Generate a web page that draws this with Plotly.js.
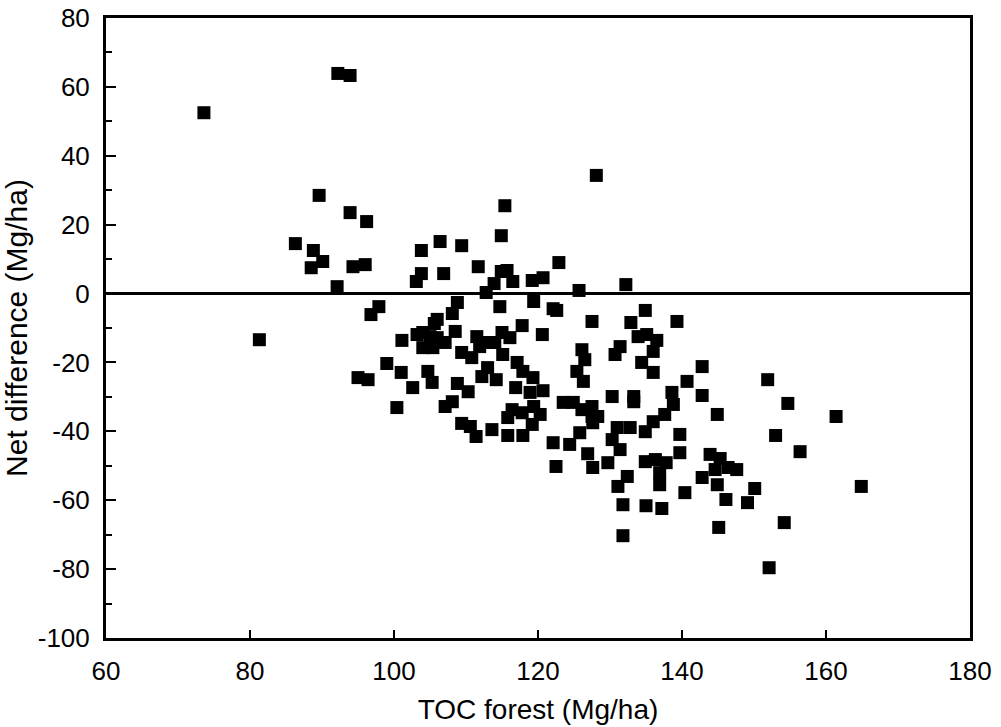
<!DOCTYPE html>
<html>
<head>
<meta charset="utf-8">
<script src="https://cdn.plot.ly/plotly-3.0.1.min.js"></script>
<style>html,body{margin:0;padding:0;background:#fff;}#chart{width:1001px;height:727px;}</style>
</head>
<body>
<div id="chart"></div>
<script>
// TOC forest (Mg/ha)
const tocForest = [
  73.6, 92.2, 93.9, 81.3, 89.6, 93.9, 96.2, 86.3, 88.8, 90.1, 88.5, 94.3, 96.0, 92.1, 97.9, 96.8,
  95.0, 96.4, 99.0,
  128.1, 115.4, 114.9, 106.4, 109.4, 103.8, 122.9, 111.7, 103.8, 106.9, 103.1, 114.9, 115.7, 116.5,
  113.9, 119.2, 120.7, 125.7, 112.8, 108.8, 108.1, 106.0, 105.6, 114.7, 119.4, 122.1, 122.6, 117.8,
  127.5, 120.6, 101.1, 103.2, 104.0, 105.0, 106.0, 104.0, 105.4, 107.1, 108.5, 111.5, 112.9, 114.0,
  115.0, 116.1, 115.1, 109.4, 110.8, 111.9, 126.1, 126.5, 101.0, 104.7, 105.3, 108.8, 110.3, 102.6,
  113.0, 112.2, 114.2, 117.1, 117.9, 119.3, 116.9, 118.9, 120.7, 125.4, 126.3, 100.4, 107.1, 108.1,
  109.4, 110.6, 111.4, 113.6, 116.4, 117.8, 115.8, 119.4, 120.3, 119.2, 117.9, 115.8, 123.5, 124.9,
  126.1, 127.5, 127.5, 127.6, 125.8, 122.1, 124.4, 126.9, 122.5, 127.6,
  132.2, 134.9, 139.3, 132.9, 133.9, 135.1, 136.5, 136.0, 131.4, 130.7, 134.4, 136.0, 142.8, 140.7,
  151.9, 142.8, 138.6, 138.8, 130.3, 133.3, 133.3, 144.9, 154.7, 137.6, 136.0, 134.9, 128.3, 131.0,
  132.8, 130.3, 131.4, 139.7, 139.7, 134.9, 136.3, 137.8, 136.9, 136.9, 143.9, 145.3, 144.6, 146.4,
  147.6, 142.8, 144.9, 150.1, 140.4, 129.7, 132.4, 131.1, 146.1, 149.1, 131.8, 135.0, 137.2, 154.2,
  145.1, 131.8, 156.4, 161.4, 153.0, 164.9, 152.1
];
// Net difference (Mg/ha)
const netDifference = [
  52.5, 63.9, 63.3, -13.4, 28.5, 23.5, 20.9, 14.5, 12.5, 9.3, 7.5, 7.8, 8.4, 2.0, -3.8, -6.1,
  -24.4, -25.0, -20.3,
  34.3, 25.5, 16.8, 15.1, 13.9, 12.5, 9.0, 7.8, 5.8, 5.8, 3.5, 6.4, 6.7, 3.5,
  2.9, 3.8, 4.6, 0.9, 0.3, -2.6, -5.8, -7.5, -8.7, -3.8, -2.3, -4.4, -4.9, -9.3,
  -8.1, -11.9, -13.6, -11.9, -11.3, -12.5, -12.8, -15.7, -15.7, -14.2, -11.0, -12.5, -14.2, -14.2,
  -11.3, -12.8, -17.7, -17.1, -18.6, -15.4, -16.3, -19.2, -22.9, -22.6, -25.8, -26.1, -28.5, -27.3,
  -21.5, -24.1, -25.0, -20.0, -22.6, -24.4, -27.3, -28.7, -28.2, -22.6, -25.5, -33.1, -32.8, -31.4,
  -37.7, -38.6, -41.5, -39.5, -33.7, -34.6, -36.0, -32.8, -35.1, -38.0, -41.2, -41.2, -31.6, -31.6,
  -33.7, -32.8, -35.7, -37.5, -40.4, -43.3, -43.8, -46.5, -50.2, -50.5,
  2.6, -4.9, -8.1, -8.4, -12.5, -11.9, -13.6, -16.8, -15.4, -17.7, -20.0, -22.9, -21.2, -25.5,
  -25.0, -29.6, -28.7, -32.2, -29.9, -29.9, -31.4, -35.1, -31.9, -35.1, -37.2, -40.1, -35.7, -38.9,
  -38.9, -42.4, -45.3, -40.9, -46.2, -48.8, -48.2, -49.1, -52.0, -55.5, -46.7, -47.9, -51.1, -50.5,
  -51.1, -53.4, -55.5, -56.6, -57.8, -49.1, -53.1, -56.0, -59.8, -60.7, -61.3, -61.6, -62.4, -66.5,
  -67.9, -70.3, -45.9, -35.7, -41.2, -56.0, -79.6
];
const xTicks = [60, 80, 100, 120, 140, 160, 180];
const yTicks = [-100, -80, -60, -40, -20, 0, 20, 40, 60, 80];

const tickFont = {family: 'Liberation Sans, Arial, sans-serif', size: 26, color: '#000'};
const xTitleFont = {family: 'Liberation Sans, Arial, sans-serif', size: 28, color: '#000'};
const yTitleFont = {family: 'Liberation Sans, Arial, sans-serif', size: 30, color: '#000'};

Plotly.newPlot('chart', [{
  x: tocForest,
  y: netDifference,
  type: 'scatter',
  mode: 'markers',
  marker: {symbol: 'square', size: 13, color: '#000'},
  hoverinfo: 'x+y'
}], {
  width: 1001, height: 727,
  margin: {l: 106, r: 31, t: 18, b: 89},
  paper_bgcolor: '#fff', plot_bgcolor: '#fff',
  showlegend: false,
  font: tickFont,
  xaxis: {
    range: [60, 180], tickmode: 'array', tickvals: xTicks, ticktext: xTicks.map(String),
    ticks: 'inside', ticklen: 8, tickwidth: 2, tickcolor: '#000',
    tickfont: tickFont,
    showline: true, linecolor: '#000', linewidth: 3, mirror: true,
    showgrid: false, zeroline: false, ticklabelstandoff: 8,
    title: {text: 'TOC forest (Mg/ha)', font: xTitleFont, standoff: 15}
  },
  yaxis: {
    range: [-100, 80], tickmode: 'array', tickvals: yTicks, ticktext: yTicks.map(String),
    ticks: 'inside', ticklen: 10, tickwidth: 2, tickcolor: '#000',
    tickfont: tickFont,
    minor: {ticks: 'inside', ticklen: 6, tickwidth: 2, tickcolor: '#000', dtick: 10, tick0: 0, showgrid: false},
    showline: true, linecolor: '#000', linewidth: 3, mirror: true,
    showgrid: false, zeroline: true, zerolinecolor: '#000', zerolinewidth: 3,
    ticklabelstandoff: 8,
    title: {text: 'Net difference (Mg/ha)', font: yTitleFont, standoff: 6}
  }
}, {displayModeBar: false, staticPlot: true});
</script>
</body>
</html>
